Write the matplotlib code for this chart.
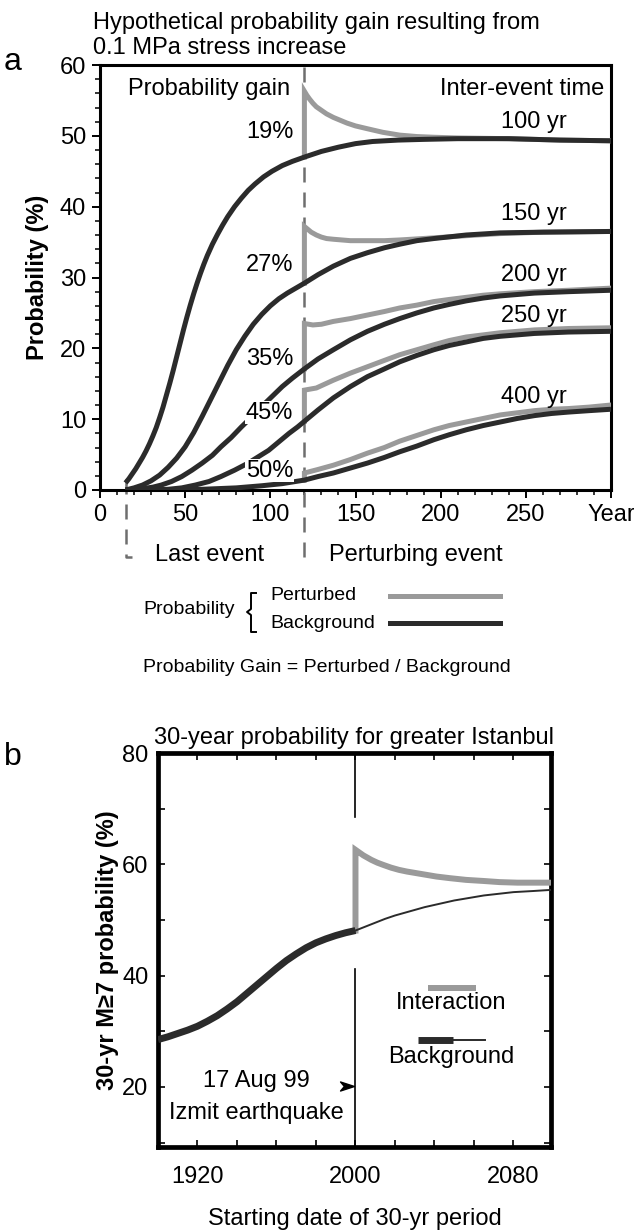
import matplotlib
matplotlib.use("Agg")
import matplotlib.pyplot as plt
from matplotlib.lines import Line2D
from matplotlib.path import Path
from matplotlib.ticker import FixedLocator, MultipleLocator

plt.rcParams['font.family'] = ['Liberation Sans', 'DejaVu Sans']

W, H = 634, 1232
GRAY = "#9a9a9a"
DARK = "#2b2b2b"
DASH = "#6e6e6e"
FS = 17
FS_LEG = 14

# ---- panel a: probability curves for several inter-event times ----
LAST_EVENT = 15
PERTURB = 120
inter_event_labels = ["100 yr", "150 yr", "200 yr", "250 yr", "400 yr"]
gain_labels = ["19%", "27%", "35%", "45%", "50%"]

bg_100_t = [15, 17, 19, 21, 23, 25, 27, 29, 31, 33, 35, 37, 39, 41, 43, 45, 47, 49, 51, 53,
            55, 57, 59, 61, 63, 66, 69, 72, 75, 79, 83, 87, 91, 96, 101, 107, 113, 120, 130,
            140, 150, 160, 175, 190, 210, 240, 270, 300]
bg_100_p = [1.0, 1.6, 2.3, 3.0, 3.8, 4.6, 5.5, 6.5, 7.6, 8.8, 10.2, 11.7, 13.4, 15.1, 16.9,
            18.8, 20.7, 22.6, 24.4, 26.1, 27.7, 29.2, 30.6, 31.9, 33.1, 34.7, 36.1, 37.4,
            38.6, 40.0, 41.2, 42.3, 43.2, 44.2, 45.0, 45.8, 46.4, 47.0, 47.8, 48.4, 48.9,
            49.2, 49.4, 49.5, 49.6, 49.6, 49.4, 49.3]
pt_100_t = [120, 120, 121.5, 123, 125, 127, 130, 133, 137, 141, 145, 150, 157, 166, 176, 186,
            196, 210, 240, 270, 300]
pt_100_p = [47.0, 56.3, 55.7, 55.2, 54.6, 54.1, 53.6, 53.1, 52.6, 52.2, 51.8, 51.4, 51.0,
            50.5, 50.1, 49.9, 49.8, 49.7, 49.6, 49.4, 49.3]

bg_150_t = [15, 20, 25, 30, 35, 40, 45, 50, 55, 60, 65, 70, 75, 80, 85, 90, 95, 100, 105,
            110, 115, 120, 128, 137, 147, 157, 167, 176, 186, 196, 215, 235, 260, 300]
bg_150_p = [0.0, 0.3, 0.7, 1.3, 2.1, 3.2, 4.5, 6.1, 8.1, 10.4, 12.8, 15.2, 17.6, 19.8, 21.7,
            23.4, 24.8, 26.0, 27.0, 27.8, 28.5, 29.2, 30.4, 31.6, 32.7, 33.5, 34.2, 34.7,
            35.2, 35.5, 36.0, 36.3, 36.4, 36.5]
pt_150_t = [120, 120, 122, 124, 127, 130, 133, 137, 142, 147, 157, 167, 176, 196, 215, 235,
            260, 300]
pt_150_p = [29.2, 37.2, 36.8, 36.4, 36.0, 35.7, 35.5, 35.4, 35.3, 35.2, 35.2, 35.2, 35.3,
            35.6, 35.9, 36.2, 36.4, 36.5]

bg_200_t = [15, 25, 31, 36, 42, 48, 54, 60, 66, 71, 77, 83, 89, 95, 101, 107, 113, 120, 128,
            137, 147, 157, 167, 176, 186, 196, 205, 215, 225, 235, 255, 275, 300]
bg_200_p = [0.0, 0.2, 0.4, 0.7, 1.2, 1.9, 2.8, 3.8, 4.9, 6.1, 7.4, 8.9, 10.3, 11.8, 13.2,
            14.6, 15.8, 17.1, 18.5, 19.8, 21.2, 22.4, 23.4, 24.2, 25.0, 25.7, 26.2, 26.7,
            27.1, 27.4, 27.8, 28.0, 28.2]
pt_200_t = [120, 120, 125, 130, 137, 147, 157, 167, 176, 186, 196, 205, 215, 225, 235, 255,
            275, 300]
pt_200_p = [17.1, 23.5, 23.3, 23.4, 23.8, 24.2, 24.7, 25.2, 25.7, 26.1, 26.6, 26.9, 27.2,
            27.5, 27.7, 28.0, 28.2, 28.5]

bg_250_t = [15, 30, 40, 48, 56, 64, 71, 79, 87, 93, 99, 105, 111, 116, 120, 128, 137, 147,
            157, 167, 176, 186, 196, 205, 215, 225, 235, 255, 275, 300]
bg_250_p = [0.0, 0.03, 0.1, 0.3, 0.7, 1.2, 1.9, 2.8, 3.8, 4.7, 5.6, 6.8, 8.0, 8.9, 9.7,
            11.3, 13.0, 14.6, 16.0, 17.1, 18.1, 19.0, 19.8, 20.4, 20.9, 21.4, 21.7, 22.1,
            22.3, 22.4]
pt_250_t = [120, 120, 127, 137, 147, 157, 167, 176, 186, 196, 205, 215, 225, 235, 255, 275,
            300]
pt_250_p = [9.7, 14.1, 14.4, 15.5, 16.5, 17.4, 18.3, 19.1, 19.8, 20.5, 21.1, 21.6, 21.9,
            22.2, 22.6, 22.8, 22.9]

bg_400_t = [15, 40, 60, 80, 95, 107, 120, 128, 137, 147, 157, 167, 176, 186, 196, 205, 215,
            225, 235, 245, 255, 265, 275, 287, 300]
bg_400_p = [0.0, 0.03, 0.1, 0.3, 0.6, 0.9, 1.4, 1.9, 2.4, 3.1, 3.8, 4.6, 5.4, 6.2, 7.1,
            7.8, 8.5, 9.1, 9.6, 10.1, 10.5, 10.8, 11.0, 11.2, 11.4]
pt_400_t = [120, 120, 128, 137, 147, 157, 167, 176, 186, 196, 205, 215, 225, 235, 245, 255,
            265, 275, 287, 300]
pt_400_p = [1.4, 2.4, 2.9, 3.5, 4.3, 5.2, 6.0, 6.9, 7.7, 8.5, 9.1, 9.6, 10.1, 10.6, 10.9,
            11.2, 11.4, 11.5, 11.7, 12.0]

# ---- panel b: 30-yr probability for Istanbul ----
bg_year_before = [1900, 1905, 1910, 1915, 1920, 1925, 1930, 1935, 1940, 1945, 1950, 1955,
                  1960, 1965, 1970, 1975, 1980, 1985, 1990, 1995, 2000]
bg_prob_before = [28.5, 29.0, 29.6, 30.2, 30.9, 31.8, 32.8, 34.0, 35.3, 36.8, 38.3, 39.8,
                  41.3, 42.7, 43.9, 45.0, 45.9, 46.6, 47.2, 47.7, 48.1]
bg_year_after = [2000, 2005, 2010, 2015, 2020, 2025, 2030, 2035, 2040, 2045, 2050, 2055,
                 2060, 2065, 2070, 2075, 2080, 2085, 2090, 2099]
bg_prob_after = [48.1, 48.8, 49.5, 50.2, 50.8, 51.3, 51.8, 52.3, 52.7, 53.1, 53.5, 53.8,
                 54.1, 54.4, 54.6, 54.8, 55.0, 55.1, 55.2, 55.4]
int_year = [2000, 2000, 2002, 2004, 2006, 2008, 2011, 2014, 2018, 2022, 2026, 2031, 2036,
            2041, 2048, 2056, 2065, 2073, 2082, 2099]
int_prob = [48.1, 62.6, 62.1, 61.6, 61.2, 60.8, 60.3, 59.9, 59.4, 59.0, 58.7, 58.4, 58.1,
            57.8, 57.5, 57.2, 57.0, 56.8, 56.7, 56.7]


def fx(px):
    return px / W


def fy(py):
    return 1 - py / H


fig = plt.figure(figsize=(W / 100, H / 100), dpi=100)

# ================= panel a =================
ax1 = fig.add_axes([fx(100), fy(490), 511 / W, 425 / H])
ax1.set_xlim(0, 300)
ax1.set_ylim(0, 60)
for s in ax1.spines.values():
    s.set_linewidth(2.2)
ax1.xaxis.set_major_locator(FixedLocator([0, 50, 100, 150, 200, 250, 300]))
ax1.set_xticklabels(["0", "50", "100", "150", "200", "250", "Year"])
ax1.xaxis.set_minor_locator(MultipleLocator(10))
ax1.yaxis.set_major_locator(MultipleLocator(10))
ax1.yaxis.set_minor_locator(MultipleLocator(2))
ax1.tick_params(which="major", direction="out", length=6, width=1.4, labelsize=FS)
ax1.tick_params(which="minor", direction="out", length=3.5, width=1.1)
ax1.tick_params(axis="x", pad=4)
ax1.tick_params(axis="y", pad=4)
ax1.set_ylabel("Probability (%)", fontsize=FS, fontweight="bold", labelpad=8)

curves = [(bg_100_t, bg_100_p, pt_100_t, pt_100_p),
          (bg_150_t, bg_150_p, pt_150_t, pt_150_p),
          (bg_200_t, bg_200_p, pt_200_t, pt_200_p),
          (bg_250_t, bg_250_p, pt_250_t, pt_250_p),
          (bg_400_t, bg_400_p, pt_400_t, pt_400_p)]
for bt, bp, pt, pp in curves:
    ax1.plot(pt, pp, color=GRAY, lw=3.6, solid_joinstyle="miter", zorder=3)
    ax1.plot(bt, bp, color=DARK, lw=3.6, solid_capstyle="butt",
             solid_joinstyle="round", zorder=4)

# event markers, carried below the axis
ax1.plot([PERTURB, PERTURB], [-9.5, 60], color=DASH, lw=1.8, dashes=(6, 4),
         clip_on=False, zorder=2)
ax1.plot([LAST_EVENT, LAST_EVENT, LAST_EVENT + 3.5], [1.5, -9.5, -9.5], color=DASH,
         lw=1.8, dashes=(6, 4), clip_on=False, zorder=2)

ax1.text(16.5, 56.6, "Probability gain", fontsize=FS, va="center", ha="left")
ax1.text(296, 56.6, "Inter-event time", fontsize=FS, va="center", ha="right")
gain_y = [50.6, 31.8, 18.5, 10.9, 2.75]
for lab, yy in zip(gain_labels, gain_y):
    ax1.text(113.5, yy, lab, fontsize=FS, ha="right", va="center", zorder=5,
             bbox=dict(facecolor="white", edgecolor="none", pad=0.5))
name_y = [52.0, 39.0, 30.4, 24.5, 13.2]
for lab, yy in zip(inter_event_labels, name_y):
    ax1.text(254.8, yy, lab, fontsize=FS, ha="center", va="center")

fig.text(fx(93), fy(23), "Hypothetical probability gain resulting from",
         fontsize=FS, va="center", ha="left")
fig.text(fx(93), fy(48), "0.1 MPa stress increase", fontsize=FS, va="center", ha="left")
fig.text(fx(13), fy(62), "a", fontsize=23, va="center", ha="center")

fig.text(fx(155), fy(555), "Last event", fontsize=FS, va="center", ha="left")
fig.text(fx(329), fy(555), "Perturbing event", fontsize=FS, va="center", ha="left")

# legend for panel a
fig.text(fx(143), fy(610), "Probability", fontsize=FS_LEG, va="center", ha="left")
brace_x = [fx(256), fx(251), fx(251), fx(247), fx(251), fx(251), fx(256)]
brace_y = [fy(593), fy(593), fy(609), fy(612), fy(615), fy(632), fy(632)]
fig.add_artist(Line2D(brace_x, brace_y, color="black", lw=1.4))
fig.text(fx(270), fy(595), "Perturbed", fontsize=FS_LEG, va="center", ha="left")
fig.text(fx(270), fy(623), "Background", fontsize=FS_LEG, va="center", ha="left")
fig.add_artist(Line2D([fx(390), fx(500)], [fy(596), fy(596)], color=GRAY, lw=3.6))
fig.add_artist(Line2D([fx(390), fx(500)], [fy(623), fy(623)], color=DARK, lw=3.6))
fig.text(fx(143), fy(668), "Probability Gain = Perturbed / Background", fontsize=FS_LEG,
         va="center", ha="left")

# ================= panel b =================
ax2 = fig.add_axes([fx(158), fy(1147), 393 / W, 394 / H])
ax2.set_xlim(1900, 2099)
ax2.set_ylim(9.2, 80)
for s in ax2.spines.values():
    s.set_linewidth(3.4)
xt = list(range(1920, 2081, 20))
ax2.xaxis.set_major_locator(FixedLocator(xt))
ax2.set_xticklabels([str(v) if v in (1920, 2000, 2080) else "" for v in xt])
yt = list(range(10, 81, 10))
ax2.yaxis.set_major_locator(FixedLocator(yt))
ax2.set_yticklabels([str(v) if v % 20 == 0 else "" for v in yt])
ax2.tick_params(direction="in", length=5, width=1.2, top=True, right=True, labelsize=FS)
ax2.tick_params(axis="x", pad=14)
ax2.tick_params(axis="y", pad=7)
ax2.set_xlabel("Starting date of 30-yr period", fontsize=FS, labelpad=14)
ax2.set_ylabel("30-yr M\u22657 probability (%)", fontsize=FS, fontweight="bold", labelpad=-4)
ax2.yaxis.set_label_coords(-0.1, 0.5)

ax2.plot([2000, 2000], [68.5, 80], color="black", lw=1.2)
ax2.plot([2000, 2000], [9.2, 41.1], color="black", lw=1.2)
ax2.plot(int_year, int_prob, color=GRAY, lw=4.3, solid_joinstyle="miter", zorder=3)
ax2.plot(bg_year_after, bg_prob_after, color=DARK, lw=1.4, zorder=4)
ax2.plot(bg_year_before, bg_prob_before, color=DARK, lw=5.0, solid_capstyle="butt",
         solid_joinstyle="round", zorder=4)

arrow = Path([(-1, -0.65), (1, 0), (-1, 0.65), (-0.45, 0), (-1, -0.65)],
             [Path.MOVETO, Path.LINETO, Path.LINETO, Path.LINETO, Path.CLOSEPOLY])
ax2.plot([1995.6], [20.1], marker=arrow, markersize=10, color="black", linestyle="none")
ax2.text(1950, 21.1, "17 Aug 99", fontsize=FS, ha="center", va="center")
ax2.text(1950, 15.3, "Izmit earthquake", fontsize=FS, ha="center", va="center")

# legend for panel b
ax2.plot([2036.5, 2061], [37.8, 37.8], color=GRAY, lw=4.3, solid_capstyle="butt")
ax2.text(2048.6, 35.1, "Interaction", fontsize=FS, ha="center", va="center")
ax2.plot([2031.7, 2049.4], [28.5, 28.5], color=DARK, lw=5.0, solid_capstyle="butt")
ax2.plot([2049.4, 2065.5], [28.5, 28.5], color=DARK, lw=1.4)
ax2.text(2048.6, 25.4, "Background", fontsize=FS, ha="center", va="center")

fig.text(fx(354), fy(738), "30-year probability for greater Istanbul", fontsize=FS,
         ha="center", va="center")
fig.text(fx(13), fy(757), "b", fontsize=23, va="center", ha="center")

fig.savefig("out.png", dpi=100)
